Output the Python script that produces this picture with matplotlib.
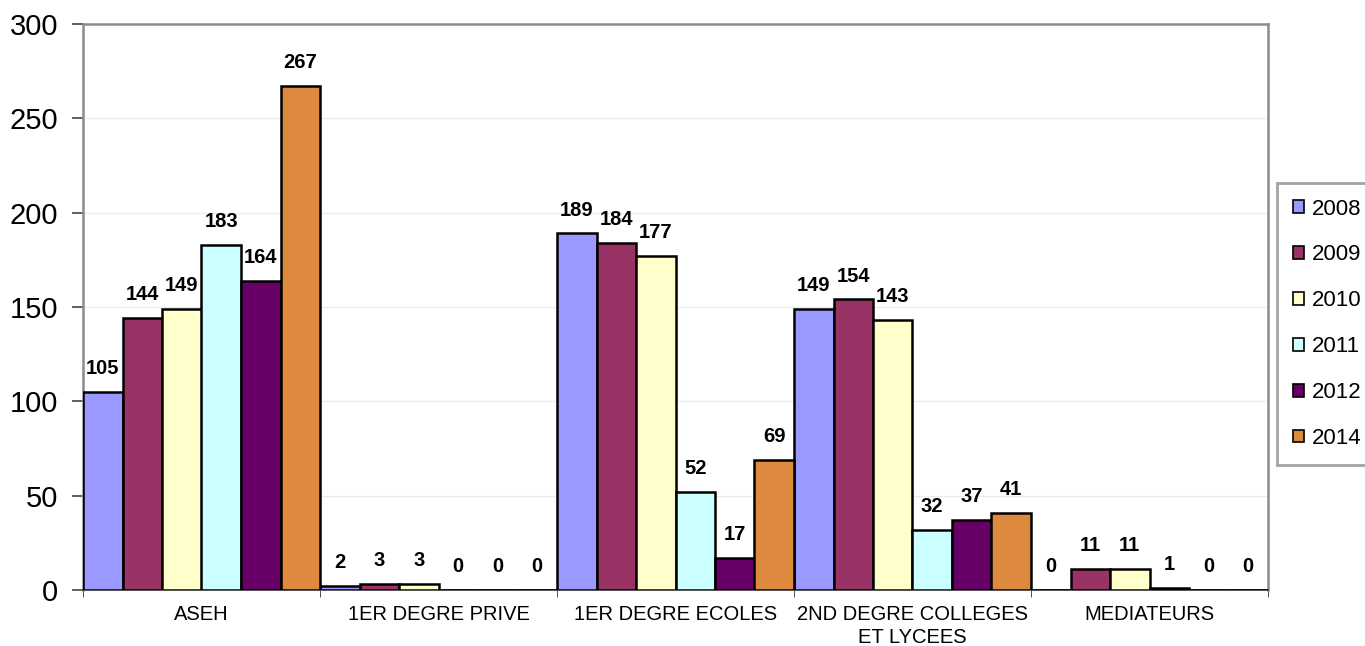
import matplotlib
matplotlib.use("Agg")
import matplotlib.pyplot as plt
import numpy as np

# Données
categories = ["ASEH", "1ER DEGRE PRIVE", "1ER DEGRE ECOLES",
              "2ND DEGRE COLLEGES\nET LYCEES", "MEDIATEURS"]
years = ["2008", "2009", "2010", "2011", "2012", "2014"]
v2008 = [105, 2, 189, 149, 0]
v2009 = [144, 3, 184, 154, 11]
v2010 = [149, 3, 177, 143, 11]
v2011 = [183, 0, 52, 32, 1]
v2012 = [164, 0, 17, 37, 0]
v2014 = [267, 0, 69, 41, 0]
series = [v2008, v2009, v2010, v2011, v2012, v2014]
colors = ["#9999FF", "#993366", "#FFFFCC", "#CCFFFF", "#660066", "#DE8A3E"]

plt.rcParams["font.family"] = ["Liberation Sans", "DejaVu Sans"]

fig = plt.figure(figsize=(13.65, 6.46), dpi=100)
ax = fig.add_axes([83 / 1365, 1 - 590 / 646, 1185 / 1365, 566 / 646])

x = np.arange(len(categories))
n = len(series)
w = 1.0 / n
handles = []
for i, (vals, col, yr) in enumerate(zip(series, colors, years)):
    pos = x - 0.5 + w * (i + 0.5)
    bars = ax.bar(pos, vals, width=w, color=col, edgecolor="black",
                  linewidth=1.8, label=yr, zorder=3)
    handles.append(bars)
    for p, v in zip(pos, vals):
        ax.annotate(str(v), (p, v), textcoords="offset points",
                    xytext=(0, 10), ha="center", va="bottom",
                    fontsize=14.5, fontweight="bold", zorder=4)

ax.set_xlim(-0.5, len(categories) - 0.5)
ax.set_ylim(0, 300)
ax.set_yticks(range(0, 301, 50))
ax.yaxis.grid(True, color="#ececec", linewidth=1, zorder=0)
ax.set_axisbelow(True)

ax.set_xticks(x)
ax.set_xticklabels(categories, fontsize=14.5, linespacing=1.3)
ax.set_xticks(np.arange(-0.5, len(categories)), minor=True)
ax.tick_params(axis="x", which="major", length=0, pad=10.5)
ax.tick_params(axis="x", which="minor", length=5, color="#333333")
ax.tick_params(axis="y", labelsize=21, length=8, width=1.2,
               color="#444444", pad=10)

for s in ("left", "right", "top"):
    ax.spines[s].set_color("#8c8c8c")
    ax.spines[s].set_linewidth(1.8)
ax.spines["bottom"].set_color("#333333")
ax.spines["bottom"].set_linewidth(1.2)

leg = fig.legend(handles=handles, labels=years, loc="upper left",
                 bbox_to_anchor=(1277 / 1365, 1 - 183 / 646),
                 fontsize=16, frameon=True, fancybox=False,
                 handlelength=0.5, handleheight=0.5, handletextpad=0.35,
                 labelspacing=1.12, borderpad=0.7, borderaxespad=0)
leg.get_frame().set_edgecolor("#8c8c8c")
leg.get_frame().set_linewidth(2)
for h in leg.legend_handles:
    h.set_linewidth(1.2)

fig.savefig("out.png", dpi=100)
